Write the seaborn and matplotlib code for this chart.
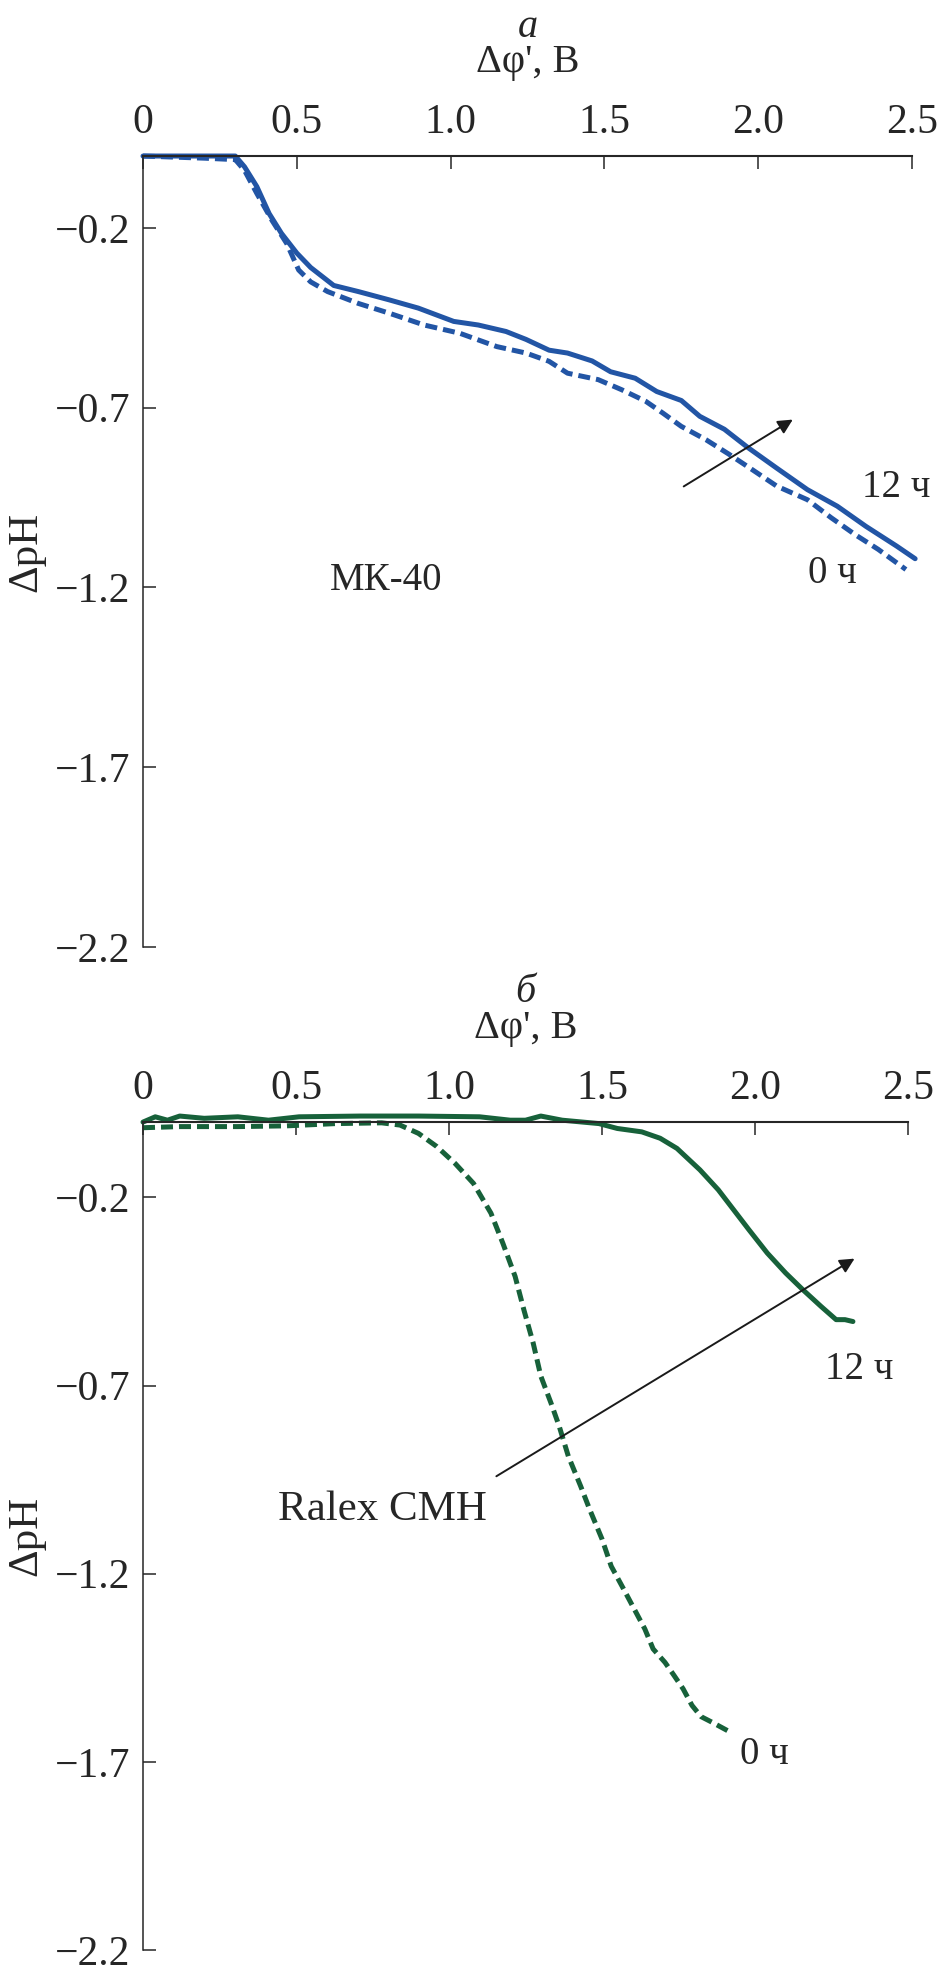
import numpy as np
import matplotlib
matplotlib.use('Agg')
import matplotlib.pyplot as plt
import seaborn as sns

# Panel a: MK-40, blue curves
a_x_12h = [0, 0.30, 0.33, 0.37, 0.41, 0.45, 0.50, 0.545, 0.62, 0.70, 0.80, 0.895, 1.01, 1.09, 1.18,
           1.245, 1.32, 1.38, 1.46, 1.52, 1.60, 1.67, 1.75, 1.81, 1.89, 1.965, 2.06, 2.16, 2.257,
           2.35, 2.45, 2.51]
a_y_12h = [0, 0, -0.03, -0.085, -0.16, -0.215, -0.27, -0.31, -0.36, -0.377, -0.40, -0.423, -0.46,
           -0.47, -0.488, -0.51, -0.54, -0.548, -0.57, -0.60, -0.618, -0.655, -0.68, -0.724, -0.76,
           -0.81, -0.868, -0.928, -0.974, -1.03, -1.085, -1.12]
a_x_0h = [0, 0.20, 0.30, 0.33, 0.37, 0.42, 0.467, 0.506, 0.545, 0.60, 0.70, 0.80, 0.914, 1.03, 1.15,
          1.245, 1.32, 1.38, 1.48, 1.556, 1.634, 1.69, 1.75, 1.83, 1.906, 1.98, 2.06, 2.16, 2.237,
          2.315, 2.39, 2.48]
a_y_0h = [0, -0.006, -0.01, -0.04, -0.104, -0.18, -0.243, -0.317, -0.35, -0.377, -0.41, -0.437,
          -0.47, -0.493, -0.53, -0.548, -0.571, -0.604, -0.622, -0.65, -0.682, -0.715, -0.752,
          -0.789, -0.83, -0.872, -0.918, -0.956, -1.006, -1.053, -1.094, -1.15]

# Panel б: Ralex CMH, green curves
b_x_12h = [0, 0.04, 0.08, 0.12, 0.20, 0.31, 0.41, 0.51, 0.71, 0.90, 1.10, 1.20, 1.25, 1.30, 1.37,
           1.49, 1.55, 1.63, 1.69, 1.745, 1.82, 1.88, 1.93, 1.98, 2.04, 2.10, 2.157, 2.216, 2.265,
           2.294, 2.32]
b_y_12h = [0, 0.014, 0.005, 0.016, 0.01, 0.014, 0.005, 0.014, 0.016, 0.016, 0.014, 0.005, 0.005,
           0.016, 0.005, -0.004, -0.017, -0.026, -0.043, -0.07, -0.127, -0.18, -0.233, -0.286,
           -0.348, -0.401, -0.446, -0.49, -0.525, -0.525, -0.53]
b_x_0h = [0, 0.12, 0.31, 0.47, 0.63, 0.78, 0.84, 0.90, 0.96, 1.02, 1.08, 1.137, 1.176, 1.216, 1.245,
          1.275, 1.30, 1.333, 1.36, 1.39, 1.43, 1.46, 1.50, 1.53, 1.57, 1.60, 1.64, 1.667, 1.706,
          1.735, 1.765, 1.794, 1.824, 1.86, 1.91]
b_y_0h = [-0.015, -0.012, -0.012, -0.01, -0.004, -0.002, -0.008, -0.03, -0.065, -0.11, -0.163,
          -0.242, -0.322, -0.41, -0.5, -0.587, -0.675, -0.746, -0.808, -0.888, -0.967, -1.03,
          -1.108, -1.18, -1.24, -1.286, -1.347, -1.40, -1.436, -1.47, -1.506, -1.55, -1.58,
          -1.595, -1.617]

x_ticks = [0, 0.5, 1.0, 1.5, 2.0, 2.5]
x_tick_labels = ['0', '0.5', '1.0', '1.5', '2.0', '2.5']
y_ticks = [-0.2, -0.7, -1.2, -1.7, -2.2]
y_tick_labels = ['\u22120.2', '\u22120.7', '\u22121.2', '\u22121.7', '\u22122.2']

sns.set_style('ticks')
plt.rcParams['font.family'] = ['Liberation Serif', 'DejaVu Serif']

blue = '#2255a5'
green = '#17613a'
dash = (0, (2.4, 1.2))

fig = plt.figure(figsize=(9.39, 19.75), dpi=100)
ax1 = fig.add_axes([0.1523, 0.5205, 0.819, 0.4005])
ax2 = fig.add_axes([0.1523, 0.01266, 0.8147, 0.4192])


def style_axes(ax, w_px, h_px):
    ax.set_xlim(0, 2.5)
    ax.set_ylim(-2.2, 0)
    ax.spines['right'].set_visible(False)
    ax.spines['bottom'].set_visible(False)
    ax.spines['top'].set_linewidth(1.5)
    ax.spines['left'].set_linewidth(1.1)
    ax.xaxis.tick_top()
    ax.set_xticks(x_ticks)
    ax.set_xticklabels(x_tick_labels)
    ax.set_yticks(y_ticks)
    ax.set_yticklabels(y_tick_labels)
    ax.tick_params(axis='x', direction='in', length=9.5, width=1.1, labelsize=30, pad=10)
    ax.tick_params(axis='y', direction='in', length=9.5, width=1.1, labelsize=30, pad=9)
    ax.xaxis.set_label_position('top')
    ax.set_xlabel("\u0394\u03c6', B", fontsize=29)
    ax.xaxis.set_label_coords(0.5, 1 + 84 / h_px)
    ax.set_ylabel('\u0394pH', fontsize=31)
    ax.yaxis.set_label_coords(-98 / w_px, 0.5)


# Panel a
sns.lineplot(x=a_x_12h, y=a_y_12h, ax=ax1, color=blue, lw=3.6, estimator=None, sort=False, clip_on=False)
sns.lineplot(x=a_x_0h, y=a_y_0h, ax=ax1, color=blue, lw=3.6, linestyle=dash, estimator=None, sort=False, clip_on=False)
style_axes(ax1, 769, 791)
ax1.text(0.5, 1 + 129 / 791, '\u0430', transform=ax1.transAxes, ha='center', va='center',
         fontsize=29, style='italic')
ax1.annotate('', xy=(2.12, -0.729), xytext=(1.75, -0.923),
             arrowprops=dict(arrowstyle='-|>', color='#1a1a1a', lw=1.4, mutation_scale=22))
ax1.text(2.45, -0.923, '12 \u0447', fontsize=28, ha='center', va='center')
ax1.text(2.24, -1.16, '0 \u0447', fontsize=28, ha='center', va='center')
ax1.text(0.79, -1.18, '\u041c\u041a-40', fontsize=28, ha='center', va='center')

# Panel б
sns.lineplot(x=b_x_12h, y=b_y_12h, ax=ax2, color=green, lw=3.6, estimator=None, sort=False, clip_on=False)
sns.lineplot(x=b_x_0h, y=b_y_0h, ax=ax2, color=green, lw=3.6, linestyle=dash, estimator=None, sort=False, clip_on=False)
style_axes(ax2, 765, 828)
ax2.text(0.5, 1 + 130 / 828, '\u0431', transform=ax2.transAxes, ha='center', va='center',
         fontsize=29, style='italic')
ax2.annotate('', xy=(2.333, -0.359), xytext=(1.147, -0.945),
             arrowprops=dict(arrowstyle='-|>', color='#1a1a1a', lw=1.4, mutation_scale=22))
ax2.text(2.34, -0.658, '12 \u0447', fontsize=28, ha='center', va='center')
ax2.text(2.03, -1.68, '0 \u0447', fontsize=28, ha='center', va='center')
ax2.text(0.784, -1.03, 'Ralex CMH', fontsize=31, ha='center', va='center')

fig.savefig('out.png', dpi=100)
